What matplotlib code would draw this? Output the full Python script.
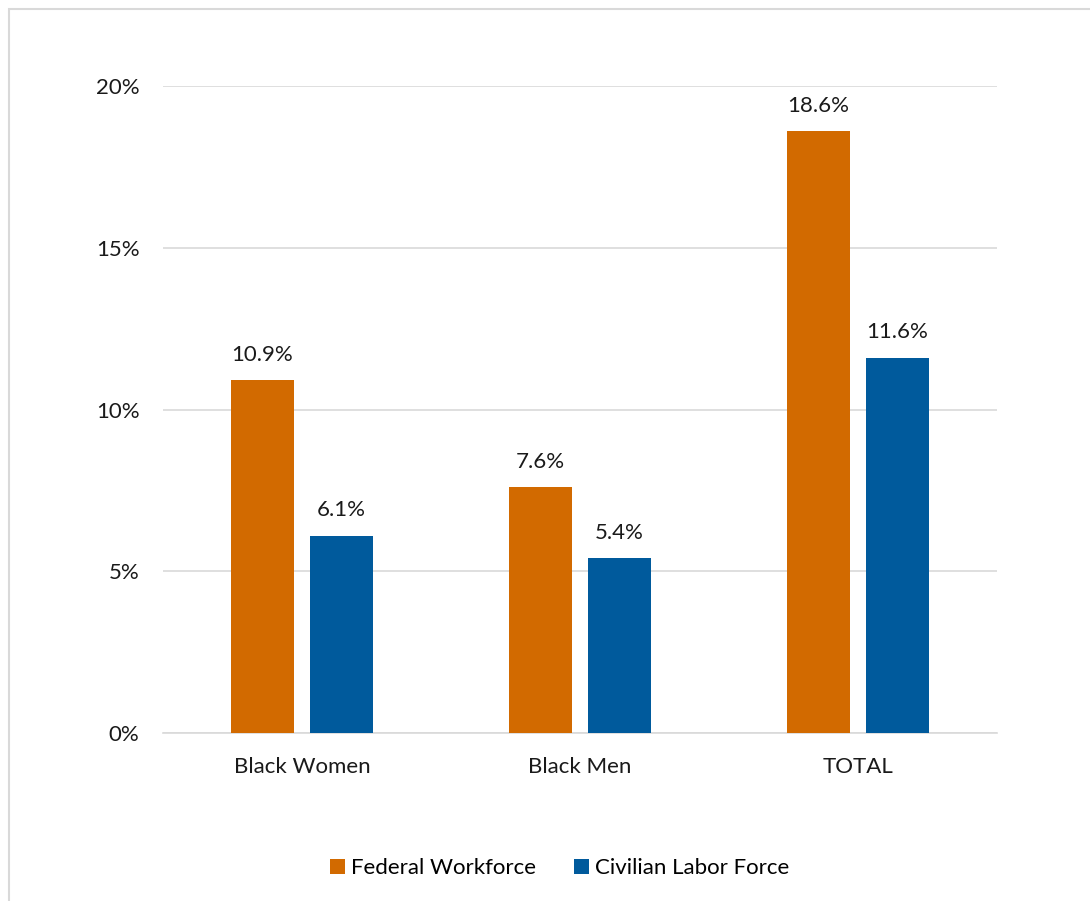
import matplotlib
matplotlib.use("Agg")
import matplotlib.pyplot as plt
from matplotlib.patches import Rectangle
import numpy as np

categories = ["Black Women", "Black Men", "TOTAL"]
federal = [10.9, 7.6, 18.6]
civilian = [6.1, 5.4, 11.6]
series_names = ["Federal Workforce", "Civilian Labor Force"]
colors = ["#D26A00", "#005A9C"]
yticks = [0, 5, 10, 15, 20]

plt.rcParams['font.family'] = ['Lato', 'DejaVu Sans']

W, H = 1090, 901
fig = plt.figure(figsize=(W/100, H/100), dpi=100)
fig.patch.set_facecolor("white")
fig.patches.append(Rectangle((9/W, -0.1), 1.2, (H-9)/H + 0.1, transform=fig.transFigure,
                             fill=False, edgecolor="#d9d9d9", linewidth=1.5))

ax = fig.add_axes([163/W, 1-733/H, (997-163)/W, (733-86)/H])
x = np.arange(len(categories))
bw = 0.227
off = 0.142
b1 = ax.bar(x - off, federal, bw, color=colors[0], label=series_names[0], zorder=3)
b2 = ax.bar(x + off, civilian, bw, color=colors[1], label=series_names[1], zorder=3)
for bars, vals in ((b1, federal), (b2, civilian)):
    for r, v in zip(bars, vals):
        ax.annotate(f"{v:.1f}%", (r.get_x() + r.get_width()/2, v), xytext=(0, 11),
                    textcoords="offset points", ha="center", va="bottom",
                    fontsize=16, color="#1a1a1a")

ax.set_xlim(-0.5, 2.5)
ax.set_ylim(0, 20)
ax.set_yticks(yticks)
ax.set_yticklabels([f"{t}%" for t in yticks])
ax.set_xticks(x)
ax.set_xticklabels(categories)
ax.tick_params(axis="both", length=0, labelsize=16, colors="#1a1a1a")
ax.tick_params(axis="y", pad=17)
ax.tick_params(axis="x", pad=17)
ax.grid(axis="y", color="#d9d9d9", linewidth=1.2, zorder=0)
for s in ["top", "right", "left"]:
    ax.spines[s].set_visible(False)
ax.spines["bottom"].set_color("#d9d9d9")
ax.spines["bottom"].set_linewidth(1.2)

fig.legend(handles=[b1, b2], labels=series_names, loc="center",
           bbox_to_anchor=(560/W, 1-868/H), ncol=2, frameon=False,
           fontsize=16, handlelength=0.65, handleheight=0.65, handletextpad=0.3,
           columnspacing=1.7)

fig.savefig("out.png", dpi=100)
